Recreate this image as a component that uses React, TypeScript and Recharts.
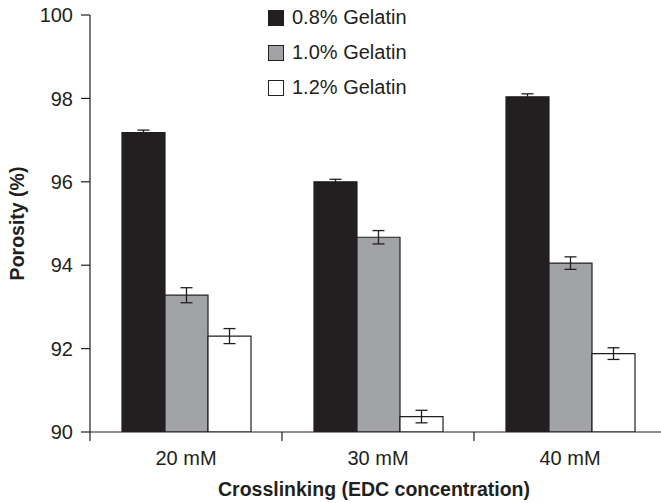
import { BarChart, Bar, XAxis, YAxis, Legend, ErrorBar, Label } from 'recharts';

const categories = ['20 mM', '30 mM', '40 mM'];
const gel08 = [97.18, 96.0, 98.04];
const gel10 = [93.28, 94.67, 94.05];
const gel12 = [92.3, 90.37, 91.88];
const err08 = [0.06, 0.06, 0.07];
const err10 = [0.18, 0.16, 0.15];
const err12 = [0.18, 0.15, 0.14];
const yTicks = [90, 92, 94, 96, 98, 100];

const data = categories.map((c, i) => ({
  name: c,
  g08: gel08[i],
  g10: gel10[i],
  g12: gel12[i],
  e08: err08[i],
  e10: err10[i],
  e12: err12[i],
}));

const INK = '#231f20';
const FONT = '"Liberation Sans", Arial, sans-serif';

const series = [
  { key: 'g08', err: 'e08', name: '0.8% Gelatin', fill: INK },
  { key: 'g10', err: 'e10', name: '1.0% Gelatin', fill: '#a2a3a6' },
  { key: 'g12', err: 'e12', name: '1.2% Gelatin', fill: '#ffffff' },
];

// category label plus tick marks on the band edges
const CatTick = (props: any) => {
  const { x, y, payload, index } = props;
  const off = payload.offset || 0;
  return (
    <g>
      <line x1={x - off} x2={x - off} y1={y} y2={y + 9} stroke={INK} strokeWidth={1.2} />
      {index === categories.length - 1 && (
        <line x1={x + off} x2={x + off} y1={y} y2={y + 9} stroke={INK} strokeWidth={1.2} />
      )}
      <text x={x} y={y + 33} textAnchor="middle" fontSize={20} fill={INK} fontFamily={FONT}>
        {payload.value}
      </text>
    </g>
  );
};

const LegendBox = () => (
  <div style={{ fontFamily: FONT, fontSize: 20, color: INK }}>
    {series.map((s) => (
      <div key={s.key} style={{ display: 'flex', alignItems: 'center', height: 35 }}>
        <span
          style={{
            width: 14,
            height: 14,
            background: s.fill,
            border: `1px solid ${INK}`,
            marginRight: 8,
            display: 'inline-block',
          }}
        />
        <span>{s.name}</span>
      </div>
    ))}
  </div>
);

export default function App() {
  return (
    <div
      style={{
        position: 'absolute',
        left: 0,
        top: 0,
        width: 661,
        height: 503,
        overflow: 'hidden',
        background: '#fff',
      }}
    >
      <BarChart
        width={670}
        height={503}
        data={data}
        margin={{ top: 15, right: 4, left: 0, bottom: 0 }}
        barCategoryGap={32}
        barGap={0}
      >
        <XAxis
          dataKey="name"
          height={71}
          axisLine={{ stroke: INK, strokeWidth: 1.2 }}
          tickLine={false}
          tickSize={0}
          tickMargin={0}
          tick={<CatTick />}
          interval={0}
        >
          <Label
            content={() => (
              <text
                x={374}
                y={496}
                textAnchor="middle"
                fontSize={19.5}
                fontWeight="bold"
                fill={INK}
                fontFamily={FONT}
              >
                Crosslinking (EDC concentration)
              </text>
            )}
          />
        </XAxis>
        <YAxis
          width={90}
          domain={[90, 100]}
          ticks={yTicks}
          allowDataOverflow
          axisLine={{ stroke: INK, strokeWidth: 1.2 }}
          tickLine={{ stroke: INK, strokeWidth: 1.2 }}
          tickSize={9}
          tickMargin={8}
          tick={{ fontSize: 20, fill: INK, fontFamily: FONT }}
        >
          <Label
            content={(p: any) => {
              const vb = p.viewBox || { x: 0, y: 15, height: 417 };
              const cy = vb.y + vb.height / 2;
              return (
                <text
                  x={24}
                  y={cy}
                  transform={`rotate(-90 24 ${cy})`}
                  textAnchor="middle"
                  fontSize={19.5}
                  fontWeight="bold"
                  fill={INK}
                  fontFamily={FONT}
                >
                  Porosity (%)
                </text>
              );
            }}
          />
        </YAxis>
        <Legend
          content={<LegendBox />}
          layout="vertical"
          verticalAlign="middle"
          align="center"
          wrapperStyle={{ position: 'absolute', left: 268, top: 0, width: 200 }}
        />
        {series.map((s) => (
          <Bar
            key={s.key}
            dataKey={s.key}
            name={s.name}
            fill={s.fill}
            stroke={INK}
            strokeWidth={1.2}
            isAnimationActive={false}
          >
            <ErrorBar dataKey={s.err} width={6} stroke={INK} strokeWidth={1.3} />
          </Bar>
        ))}
      </BarChart>
    </div>
  );
}
